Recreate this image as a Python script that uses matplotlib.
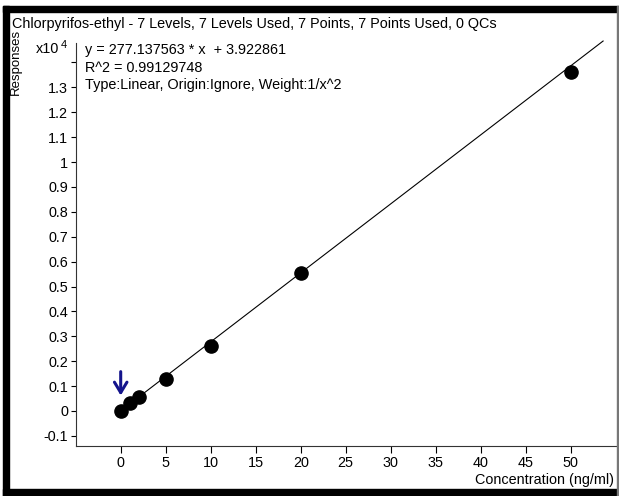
import matplotlib
matplotlib.use("Agg")
import matplotlib.pyplot as plt
from matplotlib.patches import Rectangle
import numpy as np

plt.rcParams['font.family'] = ['Liberation Sans', 'DejaVu Sans']

# calibration levels (ng/ml) and responses (x10^4)
conc = [0, 1, 2, 5, 10, 20, 50]
resp = [0.0, 0.032, 0.056, 0.127, 0.261, 0.555, 1.360]

# fit: y = 277.137563 * x + 3.922861  (responses in raw counts)
slope = 277.137563
intercept = 3.922861
fit_x = [0, 53.6]

xticks = list(range(0, 55, 5))
yticks = [round(v, 1) for v in np.arange(-0.1, 1.45, 0.1)]
ylabels = ['%g' % v for v in yticks[:-1]] + ['']

title = "Chlorpyrifos-ethyl - 7 Levels, 7 Levels Used, 7 Points, 7 Points Used, 0 QCs"
eq_lines = ["y = 277.137563 * x  + 3.922861",
            "R^2 = 0.99129748",
            "Type:Linear, Origin:Ignore, Weight:1/x^2"]

FS = 10.4
W, H = 619, 496
fig = plt.figure(figsize=(W / 100, H / 100), dpi=100)

ax = fig.add_axes([75.7 / W, 50 / H, 540 / W, 410 / H])
ax.set_xlim(-5, 55)
ylo = -35 / 249
yhi = ylo + 410 / 249
ax.set_ylim(ylo, yhi)

fx = np.array(fit_x)
ax.plot(fx, (slope * fx + intercept) / 1e4, color='black', lw=0.8)
ax.plot(conc, resp, 'o', color='black', ms=9.5)

ax.annotate('', xy=(0, 0.062), xytext=(0, 0.158),
            arrowprops=dict(arrowstyle='->,head_width=0.45,head_length=0.75',
                            mutation_scale=10, shrinkA=0, shrinkB=0,
                            color='#14148c', lw=2.2))

for s in ['top', 'right']:
    ax.spines[s].set_visible(False)
ax.spines['left'].set_bounds(ylo, 1.478)
ax.spines['left'].set_color('#333333')
ax.spines['bottom'].set_color('#333333')
ax.spines['left'].set_linewidth(0.8)
ax.spines['bottom'].set_linewidth(0.8)

ax.set_xticks(xticks)
ax.set_xticklabels([str(v) for v in xticks])
ax.set_yticks(yticks)
ax.set_yticklabels(ylabels)
ax.tick_params(axis='x', direction='out', length=5, width=0.8, pad=2, labelsize=FS)
ax.tick_params(axis='y', direction='out', length=3.5, width=0.8, pad=2, labelsize=FS)

fig.text(12 / W, 1 - 24 / H, title, fontsize=FS, va='center', ha='left')
fig.text(16 / W, 1 - 62 / H, "Responses", fontsize=9.5, rotation=90, va='center', ha='center',
         family=['Liberation Sans Narrow', 'Liberation Sans', 'DejaVu Sans'])
fig.text(36 / W, 1 - 49 / H, "x10", fontsize=FS, va='center', ha='left')
fig.text(61 / W, 1 - 45 / H, "4", fontsize=8, va='center', ha='left')
for i, line in enumerate(eq_lines):
    fig.text(85 / W, 1 - (50 + 17.5 * i) / H, line, fontsize=FS, va='center', ha='left')
fig.text(614 / W, 1 - 480 / H, "Concentration (ng/ml)", fontsize=FS, va='center', ha='right')

# outer frame
fig.patches.append(Rectangle((3 / W, 0), 6 / W, 1 - 6 / H, transform=fig.transFigure,
                             color='black', zorder=10))
fig.patches.append(Rectangle((3 / W, 1 - 12 / H), 1 - 3 / W, 6 / H, transform=fig.transFigure,
                             color='black', zorder=10))
fig.patches.append(Rectangle((3 / W, 0), 1 - 3 / W, 7 / H, transform=fig.transFigure,
                             color='black', zorder=10))
fig.patches.append(Rectangle((616.5 / W, 0), 1.2 / W, 1 - 6 / H, transform=fig.transFigure,
                             color='#777777', zorder=10))

fig.savefig("out.png", dpi=100)
